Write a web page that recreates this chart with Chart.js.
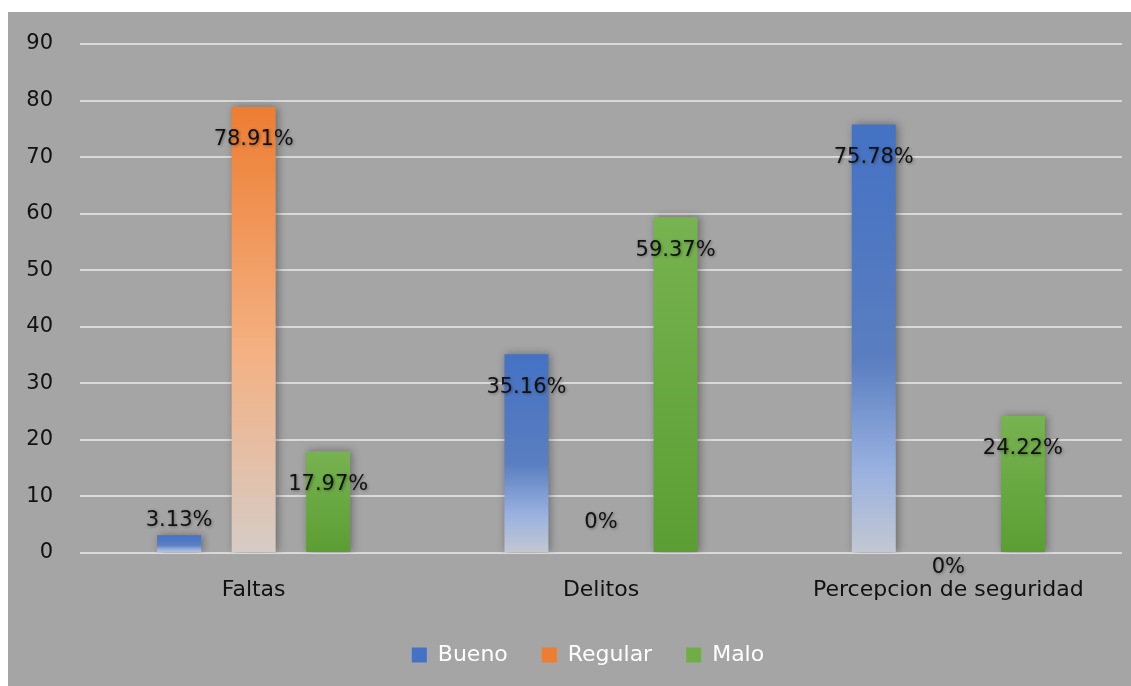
<!DOCTYPE html>
<html>
<head>
<meta charset="utf-8">
<script src="https://cdn.jsdelivr.net/npm/chart.js@4.4.8/dist/chart.umd.min.js"></script>
<style>
  html, body { margin: 0; padding: 0; background: #fff; }
  #wrap {
    position: absolute; left: 8px; top: 12px;
    width: 1123px; height: 674px; background: #a5a5a5;
  }
</style>
</head>
<body>
<div id="wrap"><canvas id="c"></canvas></div>
<script>
// Encuesta: Faltas / Delitos / Percepcion de seguridad

const categories = ['Faltas', 'Delitos', 'Percepcion de seguridad'];
const seriesNames = ['Bueno', 'Regular', 'Malo'];
const bueno = [3.13, 35.16, 75.78];
const regular = [78.91, 0, 0];
const malo = [17.97, 59.37, 24.22];
const yTicks = [0, 10, 20, 30, 40, 50, 60, 70, 80, 90];

const FONT = "'DejaVu Sans', sans-serif";

// colour stops per series, top of bar -> bottom of bar
const fills = {
  Bueno: [[0, '#4472c4'], [0.55, '#5a7ec0'], [0.8, '#98b0e0'], [1, '#c3c8d2']],
  Regular: [[0, '#ed7d31'], [0.55, '#f4b183'], [1, '#d6ccc6']],
  Malo: [[0, '#77b350'], [1, '#5b9e33']],
};
const solid = { Bueno: '#4472c4', Regular: '#ed7d31', Malo: '#70ad47' };

function barFill(name) {
  return (ctx) => {
    const chart = ctx.chart;
    const y = chart.scales.y;
    if (!chart.chartArea || !y || ctx.parsed == null) return solid[name];
    const top = y.getPixelForValue(ctx.parsed.y);
    const base = y.getPixelForValue(0);
    if (Math.abs(base - top) < 1) return solid[name];
    const g = chart.ctx.createLinearGradient(0, top, 0, base);
    fills[name].forEach(([o, c]) => g.addColorStop(o, c));
    return g;
  };
}

// value labels, Excel-like placement
const valueLabels = {
  id: 'valueLabels',
  afterDatasetsDraw(chart, args, opts) {
    const { ctx } = chart;
    const y = chart.scales.y;
    ctx.save();
    ctx.font = opts.font;
    ctx.fillStyle = '#111';
    ctx.textAlign = 'center';
    ctx.textBaseline = 'middle';
    ctx.shadowColor = 'rgba(0,0,0,0.35)';
    ctx.shadowBlur = 3;
    ctx.shadowOffsetX = 1;
    ctx.shadowOffsetY = 1;
    chart.data.datasets.forEach((ds, di) => {
      const meta = chart.getDatasetMeta(di);
      meta.data.forEach((bar, i) => {
        const v = ds.data[i];
        const base = y.getPixelForValue(0);
        let ty;
        if (v === 0) {
          ty = base + (opts.zeroDy[i] || -30);
        } else if (base - bar.y < 40) {
          ty = bar.y - 15;
        } else {
          ty = bar.y + 33;
        }
        ctx.fillText(v + '%', bar.x, ty);
      });
    });
    ctx.restore();
  },
};

// soft shadow behind bars
const barShadow = {
  id: 'barShadow',
  beforeDatasetsDraw(chart) {
    const { ctx } = chart;
    ctx.save();
    ctx.shadowColor = 'rgba(0,0,0,0.35)';
    ctx.shadowBlur = 8;
    ctx.shadowOffsetX = 2;
  },
  afterDatasetsDraw(chart) {
    chart.ctx.restore();
  },
};

// legend sits a bit right of the canvas centre in the original
const legendShift = {
  id: 'legendShift',
  afterLayout(chart, args, opts) {
    const lg = chart.legend;
    if (!lg) return;
    lg.left += opts.dx;
    lg.right += opts.dx;
  },
};

const series = [bueno, regular, malo];

new Chart(document.getElementById('c'), {
  type: 'bar',
  data: {
    labels: categories,
    datasets: seriesNames.map((name, k) => ({
      label: name,
      data: series[k],
      backgroundColor: barFill(name),
      borderWidth: 0,
      categoryPercentage: 0.644,
      barPercentage: 0.59,
    })),
  },
  plugins: [barShadow, valueLabels, legendShift],
  options: {
    responsive: true,
    maintainAspectRatio: false,
    animation: false,
    layout: { padding: { top: 32, right: 9, bottom: 10, left: 0 } },
    plugins: {
      tooltip: { enabled: false },
      legendShift: { dx: 23 },
      legend: {
        position: 'bottom',
        labels: {
          color: '#ffffff',
          font: { family: FONT, size: 22 },
          boxWidth: 15,
          boxHeight: 15,
          padding: 34,
          generateLabels: () => seriesNames.map((n, i) => ({
            text: n,
            fillStyle: solid[n],
            strokeStyle: solid[n],
            lineWidth: 0,
            fontColor: '#ffffff',
            datasetIndex: i,
          })),
        },
      },
      valueLabels: {
        font: `21px ${FONT}`,
        zeroDy: [0, -30, 15],
      },
    },
    scales: {
      x: {
        grid: { display: false },
        border: { display: false },
        ticks: { color: '#111', font: { family: FONT, size: 22 }, padding: 16 },
        afterFit: (s) => { s.height = 57; },
      },
      y: {
        min: 0,
        max: 90,
        afterBuildTicks: (s) => { s.ticks = yTicks.map((v) => ({ value: v })); },
        grid: { color: '#d9d9d9', lineWidth: 2, drawTicks: false },
        border: { display: false },
        ticks: { color: '#111', font: { family: FONT, size: 21 }, padding: 27 },
        afterFit: (s) => {
          s.width = 72;
          s.paddingTop = 0;
          s.paddingBottom = 0;
        },
      },
    },
  },
});
</script>
</body>
</html>
